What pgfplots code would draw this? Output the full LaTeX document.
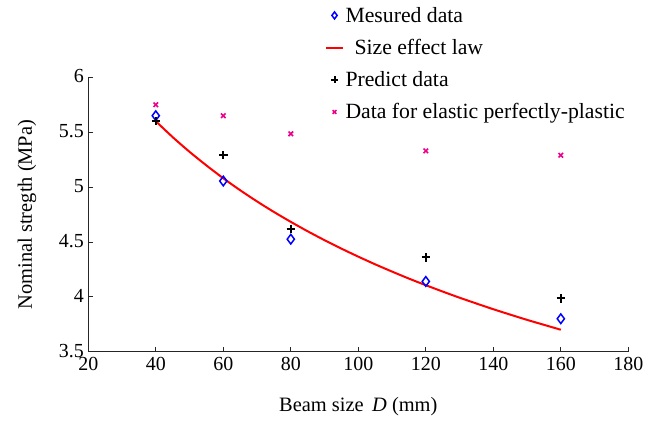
\documentclass[border=0pt]{standalone}
\usepackage{fontspec}
\setmainfont{Liberation Serif}
\usepackage{pgfplots}
\pgfplotsset{compat=1.18}
\begin{document}
\begin{tikzpicture}
\useasboundingbox (0,0) rectangle (645bp,423bp);
\begin{axis}[
  at={(88.3bp,71.3bp)}, anchor=south west,
  scale only axis, width=540bp, height=274.4bp,
  xmin=20, xmax=180, ymin=3.5, ymax=6,
  xtick={20,40,60,80,100,120,140,160,180},
  xticklabels={20,40,60,80,100,120,140,160,180},
  ytick={3.5,4,4.5,5,5.5,6},
  yticklabels={3.5,4,4.5,5,5.5,6},
  axis x line*=bottom, axis y line*=left,
  axis line style={-, line width=0.8bp, black!85},
  tick align=inside, major tick length=5bp,
  tick style={line width=0.8bp, black!85},
  ticklabel style={font=\fontsize{20}{22}\selectfont},
  yticklabel style={xshift=-1bp, yshift=1bp},
  xticklabel style={yshift=-2bp},
  xlabel={Beam size \,\textit{D} (mm)},
  ylabel={Nominal stregth (MPa)},
  label style={font=\fontsize{20.5}{24}\selectfont},
  xlabel style={at={(axis description cs:0.5,-0.2015)}, anchor=center},
  ylabel style={at={(axis description cs:-0.1135,0.5)}, anchor=center},
  legend style={draw=none, fill=none, at={(axis description cs:0.438,1.262)}, anchor=north west,
    font=\fontsize{21.8}{24}\selectfont, row sep=12.5bp, inner sep=0pt,
    nodes={inner sep=1.5bp}},
  legend cell align=left,
  clip=false,
]
\addplot[only marks, blue, mark=diamond, mark size=4.8bp, mark options={line width=1.5bp},
  legend image post style={mark size=3.5bp}]
  coordinates {(40,5.65) (60,5.055) (80,4.525) (120,4.14) (160,3.80)};
\addlegendentry{Mesured data}
\addplot[red, line width=2bp, no marks, smooth]
  coordinates {(40,5.600) (45,5.455) (50,5.321) (55,5.197) (60,5.080) (65,4.971) (70,4.869)
               (75,4.773) (80,4.683) (85,4.597) (90,4.516) (95,4.439) (100,4.366)
               (105,4.296) (110,4.230) (115,4.166) (120,4.106) (125,4.048) (130,3.992)
               (135,3.939) (140,3.887) (145,3.838) (150,3.790) (155,3.745) (160,3.700)};
\addlegendentry{\hspace{9bp}Size effect law}
\addplot[only marks, black, mark=+, mark size=4.2bp, mark options={line width=2bp},
  legend image post style={mark size=3.3bp}]
  coordinates {(40,5.60) (60,5.29) (80,4.62) (120,4.36) (160,3.985)};
\addlegendentry{Predict data}
\addplot[only marks, magenta, mark=x, mark size=3.2bp, mark options={line width=1.6bp},
  legend image post style={mark size=2.6bp}]
  coordinates {(40,5.75) (60,5.65) (80,5.485) (120,5.33) (160,5.29)};
\addlegendentry{Data for elastic perfectly-plastic}
\end{axis}
\end{tikzpicture}
\end{document}
